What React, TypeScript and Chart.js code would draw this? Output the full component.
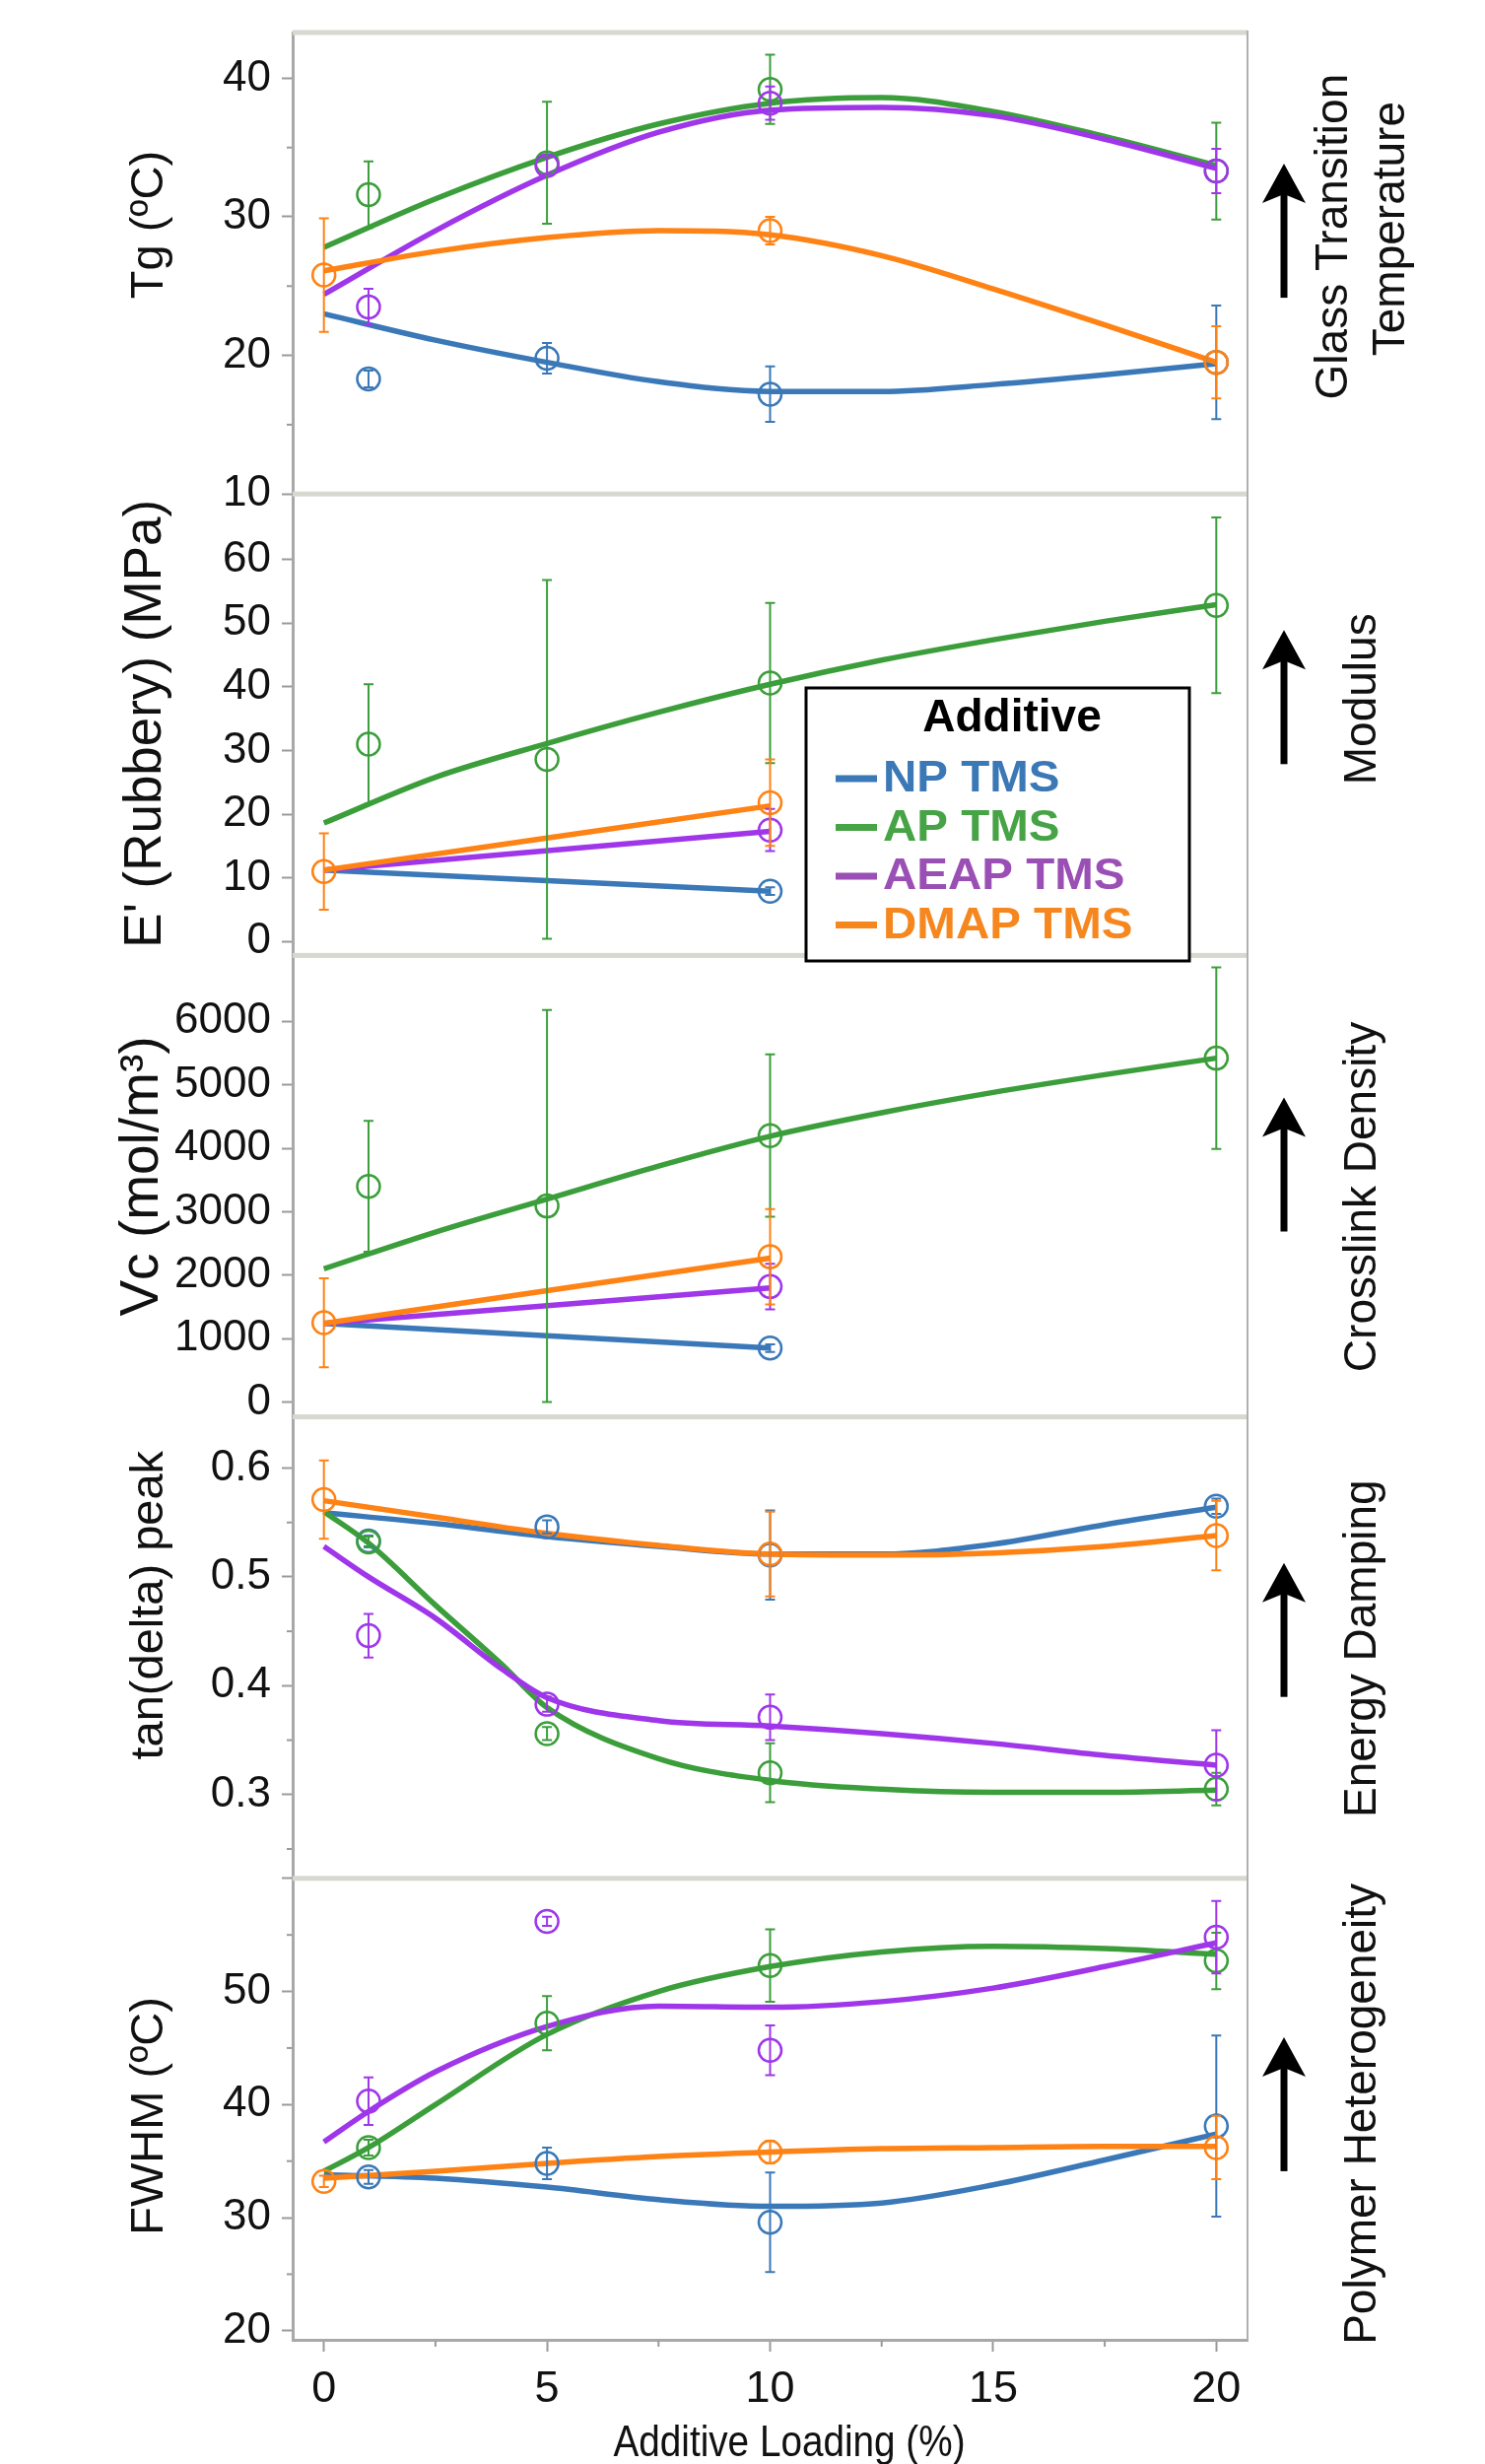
import React, { useEffect, useRef } from 'react';
import { Chart, registerables } from 'chart.js';

Chart.register(...registerables);

const FONT = "'Liberation Sans', Arial, Helvetica, sans-serif";

// ---------- series / categories ----------
const seriesNames = ['NP TMS', 'AP TMS', 'AEAP TMS', 'DMAP TMS'];
const lineColors = ['#3a78b8', '#3b9e3b', '#9f36ea', '#ff8214'];
const legendColors = ['#3b78b6', '#46a346', '#9a4fb4', '#f5871e'];

const loadings = [0, 1, 5, 10, 20];
const fitGrid = [0, 2.5, 5, 7.5, 10, 12.5, 15, 17.5, 20];
const fitGridFine = [0, 1, 2.5, 5, 7.5, 10, 12.5, 15, 17.5, 20];
const fitGridKnee = [0, 1, 2.5, 4, 5, 7.5, 10, 12.5, 15, 17.5, 20];
const fitEnds = [0, 10];

const xMajorTicks = [0, 5, 10, 15, 20];
const xMinorTicks = [2.5, 7.5, 12.5, 17.5];

// ---------- Panel 1: Tg ----------
const tgNP = [null, 18.3, 19.8, 17.2, 19.5];
const tgNPErr = [null, 0.6, 1.1, 2.0, 4.1];
const tgAP = [null, 31.6, 33.9, 39.2, 33.3];
const tgAPErr = [null, 2.4, 4.4, 2.5, 3.5];
const tgAEAP = [null, 23.5, 33.7, 38.2, 33.3];
const tgAEAPErr = [null, 1.3, 0.6, 1.2, 1.6];
const tgDMAP = [25.8, null, null, 29.0, 19.5];
const tgDMAPErr = [4.1, null, null, 1.0, 2.6];
const tgFitNP = [23.0, 21.1, 19.5, 18.1, 17.4, 17.4, 17.9, 18.6, 19.4];
const tgFitAP = [27.8, 31.3, 34.3, 36.7, 38.2, 38.6, 37.6, 35.8, 33.7];
const tgFitAEAP = [24.4, 29.0, 33.0, 36.1, 37.7, 37.9, 37.3, 35.6, 33.5];
const tgFitDMAP = [26.1, 27.5, 28.5, 29.0, 28.7, 27.2, 24.8, 22.2, 19.5];

// ---------- Panel 2: E' rubbery ----------
const modNP = [null, null, null, 7.9, null];
const modNPErr = [null, null, null, 0.6, null];
const modAP = [null, 31.0, 28.6, 40.6, 52.8];
const modAPErr = [null, 9.4, 28.2, 12.6, 13.8];
const modAEAP = [null, null, null, 17.5, null];
const modAEAPErr = [null, null, null, 3.3, null];
const modDMAP = [11.0, null, null, 21.8, null];
const modDMAPErr = [6.0, null, null, 6.8, null];
const modFitNP = [11.2, 7.9];
const modFitAP = [18.6, 25.8, 31.1, 36.0, 40.4, 44.2, 47.4, 50.3, 52.9];
const modFitAEAP = [11.2, 17.3];
const modFitDMAP = [11.2, 21.3];

// ---------- Panel 3: crosslink density ----------
const vcNP = [null, null, null, 850, null];
const vcNPErr = [null, null, null, 60, null];
const vcAP = [null, 3400, 3090, 4200, 5420];
const vcAPErr = [null, 1030, 3090, 1280, 1430];
const vcAEAP = [null, null, null, 1820, null];
const vcAEAPErr = [null, null, null, 360, null];
const vcDMAP = [1250, null, null, 2290, null];
const vcDMAPErr = [700, null, null, 750, null];
const vcFitNP = [1240, 850];
const vcFitAP = [2100, 2680, 3200, 3720, 4190, 4560, 4880, 5160, 5420];
const vcFitAEAP = [1240, 1800];
const vcFitDMAP = [1240, 2270];

// ---------- Panel 4: tan(delta) peak ----------
const tanNP = [null, 0.533, 0.546, 0.520, 0.565];
const tanNPErr = [null, 0.005, 0.006, 0.041, 0.007];
const tanAP = [null, 0.532, 0.356, 0.320, 0.305];
const tanAPErr = [null, 0.005, 0.006, 0.027, 0.015];
const tanAEAP = [null, 0.446, 0.383, 0.371, 0.327];
const tanAEAPErr = [null, 0.020, 0.007, 0.021, 0.032];
const tanDMAP = [0.571, null, null, 0.521, 0.538];
const tanDMAPErr = [0.036, null, null, 0.039, 0.032];
const tanFitNP = [0.559, 0.549, 0.537, 0.528, 0.521, 0.521, 0.530, 0.548, 0.564];
const tanFitAP = [0.560, 0.531, 0.474, 0.419, 0.380, 0.333, 0.313, 0.305, 0.302, 0.302, 0.304];
const tanFitAEAP = [0.528, 0.500, 0.462, 0.415, 0.389, 0.368, 0.363, 0.356, 0.347, 0.336, 0.327];
const tanFitDMAP = [0.570, 0.555, 0.540, 0.529, 0.521, 0.520, 0.522, 0.528, 0.538];

// ---------- Panel 5: FWHM ----------
const fwNP = [null, 33.6, 34.8, 29.6, 38.1];
const fwNPErr = [null, 0.6, 1.4, 4.4, 8.0];
const fwAP = [null, 36.2, 47.2, 52.3, 52.7];
const fwAPErr = [null, 0.7, 2.4, 3.2, 2.5];
const fwAEAP = [null, 40.3, 56.2, 44.8, 54.8];
const fwAEAPErr = [null, 2.1, 0.4, 2.2, 3.2];
const fwDMAP = [33.2, null, null, 35.8, 36.2];
const fwDMAPErr = [0.5, null, null, 1.0, 2.8];
const fwFitNP = [33.8, 33.5, 32.7, 31.6, 31.0, 31.3, 32.9, 35.1, 37.4];
const fwFitAP = [34.1, 36.2, 40.0, 46.2, 50.0, 52.2, 53.5, 54.0, 53.8, 53.3];
const fwFitAEAP = [36.7, 39.4, 42.9, 46.9, 48.7, 48.6, 49.1, 50.3, 52.2, 54.3];
const fwFitDMAP = [33.5, 34.1, 34.8, 35.4, 35.8, 36.1, 36.2, 36.3, 36.3];

// ---------- axes text / ticks ----------
const panelTitles = ['Tg (ºC)', "E' (Rubbery) (MPa)", 'Vc (mol/m³)', 'tan(delta) peak', 'FWHM (ºC)'];
const panelProperties = [
  ['Glass Transition', 'Temperature'],
  ['Modulus'],
  ['Crosslink Density'],
  ['Energy Damping'],
  ['Polymer Heterogeneity'],
];
const panelRanges = [[10, 43.3], [-2.2, 70.3], [-234, 7039], [0.223, 0.647], [19.2, 60]];
const panelMajorTicks = [
  [10, 20, 30, 40],
  [0, 10, 20, 30, 40, 50, 60],
  [0, 1000, 2000, 3000, 4000, 5000, 6000],
  [0.3, 0.4, 0.5, 0.6],
  [20, 30, 40, 50, 60],
];
const panelMinorTicks = [[15, 25, 35], [], [], [0.25, 0.35, 0.45, 0.55], [25, 35, 45, 55]];
const panelHiddenLabels = [[], [], [], [], [60]];
const panelDecimals = [0, 0, 0, 1, 0];
const xTitle = 'Additive Loading (%)';
const legendTitle = 'Additive';

// layout (pixels / styling) — not data
const titleShift = [-39, -1, -10, -43, 7];
const titleFontSize = [47, 53, 55, 47, 47];
const titleCenterX = [152, 148, 145, 152, 152];
const arrowShift = [-33, -28, -22, -18, -5];
const labelShift = [-31, -26, 11, 1, 5];

const panels = [
  {
    values: [tgNP, tgAP, tgAEAP, tgDMAP],
    errors: [tgNPErr, tgAPErr, tgAEAPErr, tgDMAPErr],
    fits: [
      { x: fitGrid, y: tgFitNP },
      { x: fitGrid, y: tgFitAP },
      { x: fitGrid, y: tgFitAEAP },
      { x: fitGrid, y: tgFitDMAP },
    ],
  },
  {
    values: [modNP, modAP, modAEAP, modDMAP],
    errors: [modNPErr, modAPErr, modAEAPErr, modDMAPErr],
    fits: [
      { x: fitEnds, y: modFitNP },
      { x: fitGrid, y: modFitAP },
      { x: fitEnds, y: modFitAEAP },
      { x: fitEnds, y: modFitDMAP },
    ],
  },
  {
    values: [vcNP, vcAP, vcAEAP, vcDMAP],
    errors: [vcNPErr, vcAPErr, vcAEAPErr, vcDMAPErr],
    fits: [
      { x: fitEnds, y: vcFitNP },
      { x: fitGrid, y: vcFitAP },
      { x: fitEnds, y: vcFitAEAP },
      { x: fitEnds, y: vcFitDMAP },
    ],
  },
  {
    values: [tanNP, tanAP, tanAEAP, tanDMAP],
    errors: [tanNPErr, tanAPErr, tanAEAPErr, tanDMAPErr],
    fits: [
      { x: fitGrid, y: tanFitNP },
      { x: fitGridKnee, y: tanFitAP },
      { x: fitGridKnee, y: tanFitAEAP },
      { x: fitGrid, y: tanFitDMAP },
    ],
  },
  {
    values: [fwNP, fwAP, fwAEAP, fwDMAP],
    errors: [fwNPErr, fwAPErr, fwAEAPErr, fwDMAPErr],
    fits: [
      { x: fitGrid, y: fwFitNP },
      { x: fitGridFine, y: fwFitAP },
      { x: fitGridFine, y: fwFitAEAP },
      { x: fitGrid, y: fwFitDMAP },
    ],
  },
];

function buildDatasets() {
  const datasets: any[] = [];
  panels.forEach((p, pi) => {
    const yID = 'y' + pi;
    p.fits.forEach((f, si) => {
      datasets.push({
        label: seriesNames[si] + ' fit ' + pi,
        data: f.x.map((x, k) => ({ x, y: f.y[k] })),
        xAxisID: 'x',
        yAxisID: yID,
        borderColor: lineColors[si],
        borderWidth: 5.5,
        pointRadius: 0,
        pointHoverRadius: 0,
        cubicInterpolationMode: 'monotone',
        fill: false,
        order: 23 - si,
      });
    });
    p.values.forEach((vals, si) => {
      const pts: any[] = [];
      const errs: number[] = [];
      vals.forEach((v, k) => {
        if (v !== null && v !== undefined) {
          pts.push({ x: loadings[k], y: v });
          const e = p.errors[si][k];
          errs.push(e === null || e === undefined ? 0 : e);
        }
      });
      datasets.push({
        label: seriesNames[si] + ' ' + pi,
        data: pts,
        errorBars: errs,
        xAxisID: 'x',
        yAxisID: yID,
        showLine: false,
        borderColor: lineColors[si],
        pointRadius: 11.5,
        pointHoverRadius: 11.5,
        pointBorderWidth: 2.5,
        pointBackgroundColor: 'rgba(0,0,0,0)',
        pointBorderColor: lineColors[si],
        order: 3 - si,
      });
    });
  });
  return datasets;
}

function drawArrow(ctx: CanvasRenderingContext2D, x: number, cy: number) {
  const tip = cy - 68;
  const bottom = cy + 68;
  ctx.fillStyle = '#000';
  ctx.fillRect(x - 3.5, tip + 28, 7, bottom - tip - 28);
  ctx.beginPath();
  ctx.moveTo(x, tip);
  ctx.lineTo(x + 22, tip + 40);
  ctx.lineTo(x, tip + 31);
  ctx.lineTo(x - 22, tip + 40);
  ctx.closePath();
  ctx.fill();
}

const decorPlugin = {
  id: 'decor',
  beforeDatasetsDraw(chart: any) {
    const ctx: CanvasRenderingContext2D = chart.ctx;
    const ca = chart.chartArea;
    ctx.save();
    ctx.fillStyle = '#d8d8d0';
    panels.forEach((_, pi) => {
      const s = chart.scales['y' + pi];
      ctx.fillRect(ca.left, s.top - 2.5, ca.right - ca.left, 5);
    });
    ctx.strokeStyle = '#b0b0b0';
    ctx.lineWidth = 2;
    ctx.beginPath();
    ctx.moveTo(ca.right, ca.top - 2);
    ctx.lineTo(ca.right, ca.bottom);
    ctx.stroke();
    ctx.strokeStyle = '#9a9a9a';
    ctx.lineWidth = 2;
    panels.forEach((_, pi) => {
      const s = chart.scales['y' + pi];
      panelMinorTicks[pi].forEach((v) => {
        const y = s.getPixelForValue(v);
        ctx.beginPath();
        ctx.moveTo(ca.left - 6, y);
        ctx.lineTo(ca.left - 1, y);
        ctx.stroke();
      });
    });
    const xs = chart.scales.x;
    xMinorTicks.forEach((v) => {
      const x = xs.getPixelForValue(v);
      ctx.beginPath();
      ctx.moveTo(x, ca.bottom + 1);
      ctx.lineTo(x, ca.bottom + 7);
      ctx.stroke();
    });
    ctx.restore();
  },
  afterDatasetsDraw(chart: any) {
    const ctx: CanvasRenderingContext2D = chart.ctx;
    ctx.save();
    chart.data.datasets.forEach((ds: any, i: number) => {
      if (!ds.errorBars) return;
      const meta = chart.getDatasetMeta(i);
      const ys = chart.scales[ds.yAxisID];
      ctx.strokeStyle = ds.pointBorderColor;
      ctx.lineWidth = 2;
      ds.data.forEach((pt: any, k: number) => {
        const e = ds.errorBars[k];
        if (!e) return;
        const el = meta.data[k];
        const x = el.x;
        const yt = ys.getPixelForValue(pt.y + e);
        const yb = ys.getPixelForValue(pt.y - e);
        ctx.beginPath();
        ctx.moveTo(x, yt);
        ctx.lineTo(x, yb);
        ctx.moveTo(x - 5, yt);
        ctx.lineTo(x + 5, yt);
        ctx.moveTo(x - 5, yb);
        ctx.lineTo(x + 5, yb);
        ctx.stroke();
      });
    });
    ctx.restore();
  },
  afterDraw(chart: any) {
    const ctx: CanvasRenderingContext2D = chart.ctx;
    const ca = chart.chartArea;
    ctx.save();
    ctx.fillStyle = '#111';
    ctx.textAlign = 'center';
    ctx.textBaseline = 'middle';
    // y titles
    panels.forEach((_, pi) => {
      const s = chart.scales['y' + pi];
      const cy = (s.top + s.bottom) / 2 + titleShift[pi];
      ctx.save();
      ctx.font = `${titleFontSize[pi]}px ${FONT}`;
      ctx.translate(titleCenterX[pi], cy);
      ctx.rotate(-Math.PI / 2);
      ctx.fillText(panelTitles[pi], 0, 0);
      ctx.restore();
    });
    // x title
    ctx.save();
    ctx.font = `45px ${FONT}`;
    ctx.translate(801, ca.bottom + 106);
    ctx.scale(0.86, 1);
    ctx.fillText(xTitle, 0, 0);
    ctx.restore();

    // right side: arrows + property names
    panels.forEach((_, pi) => {
      const s = chart.scales['y' + pi];
      const mid = (s.top + s.bottom) / 2;
      drawArrow(ctx, ca.right + 37, mid + arrowShift[pi]);
      const lines = panelProperties[pi];
      ctx.fillStyle = '#111';
      ctx.font = `46px ${FONT}`;
      const cx = ca.right + 117;
      lines.forEach((t, li) => {
        const off = (li - (lines.length - 1) / 2) * 58;
        ctx.save();
        ctx.translate(cx + off, mid + labelShift[pi] + (lines.length > 1 ? (li === 0 ? 4 : -4) : 0));
        ctx.rotate(-Math.PI / 2);
        ctx.fillText(t, 0, 0);
        ctx.restore();
      });
    });

    // legend
    const lx = ca.left + 521;
    const ly = 698;
    const lw = 389;
    const lh = 277;
    ctx.fillStyle = '#fff';
    ctx.fillRect(lx, ly, lw, lh);
    ctx.strokeStyle = '#000';
    ctx.lineWidth = 3;
    ctx.strokeRect(lx, ly, lw, lh);
    ctx.fillStyle = '#000';
    ctx.font = `bold 46px ${FONT}`;
    ctx.textAlign = 'center';
    ctx.fillText(legendTitle, lx + 209, ly + 31);
    ctx.textAlign = 'left';
    ctx.font = `bold 44px ${FONT}`;
    seriesNames.forEach((n, si) => {
      const y = ly + 92 + si * 49.5;
      ctx.fillStyle = legendColors[si];
      ctx.fillRect(lx + 30, y - 3.5, 42, 7);
      ctx.save();
      ctx.translate(lx + 78, y + 1);
      ctx.scale(1.08, 1);
      ctx.fillText(n, 0, 0);
      ctx.restore();
    });
    ctx.restore();
  },
};

export default function App() {
  const ref = useRef<HTMLCanvasElement>(null);
  useEffect(() => {
    if (!ref.current) return;
    Chart.defaults.font.family = FONT;
    const tickFont = { size: 44, family: FONT };
    const scales: any = {
      x: {
        type: 'linear',
        position: 'bottom',
        min: -0.7,
        max: 20.7,
        afterBuildTicks: (s: any) => {
          s.ticks = xMajorTicks.map((v) => ({ value: v }));
        },
        afterFit: (s: any) => {
          s.height = 126;
          s.paddingLeft = 0;
          s.paddingRight = 0;
        },
        ticks: {
          font: { size: 45, family: FONT },
          color: '#111',
          padding: 12,
          maxRotation: 0,
          autoSkip: false,
          callback: (v: any) => String(v),
        },
        grid: { drawOnChartArea: false, tickLength: 12, tickColor: '#9a9a9a', tickWidth: 2 },
        border: { color: '#a8a8a8', width: 3 },
      },
    };
    panels.forEach((_, pi) => {
      scales['y' + pi] = {
        type: 'linear',
        position: 'left',
        stack: 'panels',
        stackWeight: 1,
        weight: 5 - pi,
        min: panelRanges[pi][0],
        max: panelRanges[pi][1],
        afterBuildTicks: (s: any) => {
          s.ticks = panelMajorTicks[pi].map((v) => ({ value: v }));
        },
        afterFit: (s: any) => {
          s.width = 297;
          s.paddingTop = 0;
          s.paddingBottom = 0;
        },
        ticks: {
          font: tickFont,
          color: '#111',
          padding: 11,
          autoSkip: false,
          callback: (v: any) =>
            panelHiddenLabels[pi].includes(v) ? '' : Number(v).toFixed(panelDecimals[pi]),
        },
        grid: { drawOnChartArea: false, tickLength: 11, tickColor: '#9a9a9a', tickWidth: 2 },
        border: { color: '#a8a8a8', width: 3 },
      };
    });
    const chart = new Chart(ref.current, {
      type: 'line',
      data: { datasets: buildDatasets() },
      options: {
        responsive: false,
        animation: false,
        devicePixelRatio: 1,
        events: [],
        layout: { padding: { top: 33, right: 241, bottom: 0, left: 0 } },
        plugins: { legend: { display: false }, title: { display: false }, tooltip: { enabled: false } },
        scales,
      } as any,
      plugins: [decorPlugin as any],
    });
    return () => chart.destroy();
  }, []);
  return (
    <div style={{ position: 'absolute', left: 0, top: 0, width: 1507, height: 2500, background: '#fff' }}>
      <canvas ref={ref} width={1507} height={2500} style={{ width: 1507, height: 2500, display: 'block' }} />
    </div>
  );
}
